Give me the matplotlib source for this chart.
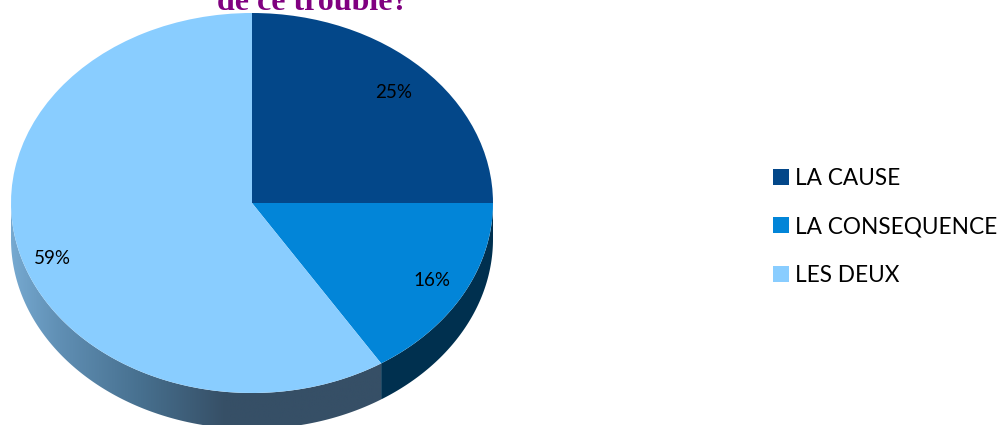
import matplotlib
matplotlib.use("Agg")
import matplotlib.pyplot as plt
import numpy as np
from matplotlib.colors import LinearSegmentedColormap
from matplotlib.patches import Polygon

labels = ["LA CAUSE", "LA CONSEQUENCE", "LES DEUX"]
values = [25, 16, 59]
colors = ["#034789", "#0285D8", "#89CDFF"]

W, H = 1001, 425
CX, CY, RX, RY = 252, 203, 241, 190
DEPTH = 36 / RY


def px(x, y):
    # picture pixels to the unit pie coordinates
    return (x - CX) / RX, (CY - y) / RY


def wall(a1, a2):
    t = np.radians(np.linspace(a1, a2, 200))
    top = np.column_stack([np.cos(t), np.sin(t)])
    bottom = np.column_stack([np.cos(t), np.sin(t) - DEPTH])[::-1]
    return np.vstack([top, bottom])


fig = plt.figure(figsize=(W / 100, H / 100), dpi=100)
ax = fig.add_axes([0, 0, 1, 1])

wedges, _ = ax.pie(values, colors=colors, startangle=90, counterclock=False, radius=1,
                   wedgeprops={"linewidth": 0, "zorder": 3})

# side of the pie, only the front part shows
split = 90 - 360 * (values[0] + values[1]) / 100
ax.add_patch(Polygon(wall(0, split), closed=True, facecolor="#00304F", edgecolor="none", zorder=1))

ramp = LinearSegmentedColormap.from_list(
    "side", [(0, "#76A9D0"), (0.13, "#608FB4"), (0.35, "#47708F"), (0.58, "#364F66"), (1, "#364F66")])
x0, _ = px(11, 0)
x1, _ = px(381, 0)
im = ax.imshow(np.linspace(0, 1, 256).reshape(1, -1), cmap=ramp, aspect="auto",
               extent=(x0, x1, -1.4, 0), zorder=1)
clip = Polygon(wall(split, -180), closed=True, transform=ax.transData, facecolor="none", edgecolor="none")
ax.add_patch(clip)
im.set_clip_path(clip)

ax.set_aspect("auto")
ax.set_xlim(px(0, 0)[0], px(W, 0)[0])
ax.set_ylim(px(0, H)[1], px(0, 0)[1])
ax.axis("off")

# percent labels
for v, (lx, ly) in zip(values, [(394, 92.5), (432, 280.5), (52, 258.5)]):
    ax.text(*px(lx, ly), f"{v}%", ha="center", va="center", fontsize=13.5,
            family="Lato", color="black", zorder=5)

# title is cut by the top of the picture
ax.text(*px(313, 9.5), "de ce trouble?", ha="center", va="baseline", fontsize=23,
        family="Liberation Serif", weight="bold", color="#800080", zorder=5)

leg = ax.legend(wedges, labels, loc="upper left", bbox_to_anchor=(766 / W, 1 - 161 / H),
                frameon=False, prop={"family": "Lato", "size": 16.3},
                handlelength=0.71, handleheight=0.71, handletextpad=0.25,
                labelspacing=1.21, borderpad=0.3, borderaxespad=0)
for t in leg.get_texts():
    t.set_color("black")

fig.savefig("out.png", dpi=100)
